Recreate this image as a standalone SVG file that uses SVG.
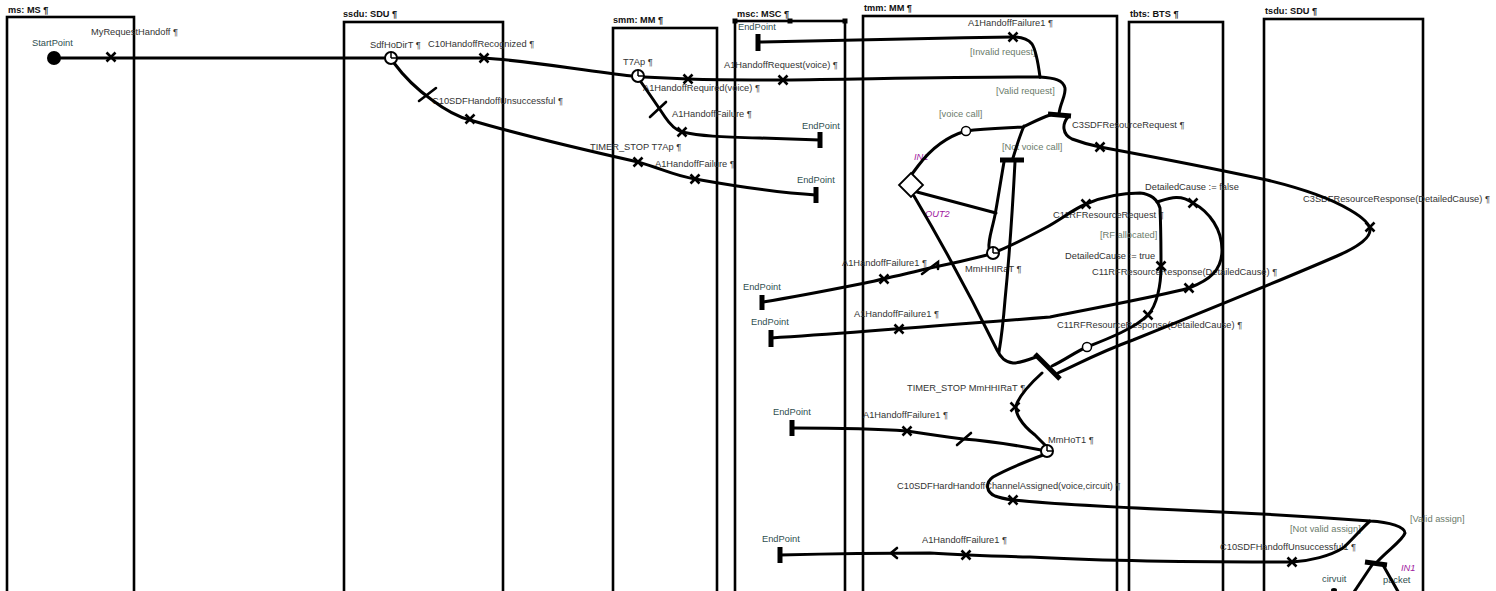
<svg xmlns="http://www.w3.org/2000/svg" xmlns:xlink="http://www.w3.org/1999/xlink" width="1496" height="591" viewBox="0 0 1496 591">
<style>
.box{fill:none;stroke:#000;stroke-width:2.6}
.p{fill:none;stroke:#000;stroke-width:3;stroke-linecap:round;stroke-linejoin:round}
.bar{stroke:#000;stroke-width:5;stroke-linecap:butt}
.tm{fill:none;stroke:#000;stroke-width:2.6;stroke-linecap:round}
text{font-family:"Liberation Sans",Arial,sans-serif;font-size:9.3px;fill:#333}
.comp{font-weight:bold;font-size:9.2px;fill:#111}
.ep{fill:#2f4f4f}
.cond{fill:#6b7b6b}
.stub{fill:#a020a0;font-style:italic}
</style>
<defs>
<g id="x"><path d="M-4.5,-4.5L4.5,4.5M-4.5,4.5L4.5,-4.5" stroke="#000" stroke-width="2.6" fill="none"/></g>
<g id="timer"><circle r="6" fill="#fff" stroke="#000" stroke-width="2"/><path d="M0,0V-5.5M0,0H5.5" stroke="#000" stroke-width="1.5" fill="none"/></g>
<g id="dot"><circle r="4.5" fill="#fff" stroke="#000" stroke-width="1.5"/></g>
</defs>
<rect width="1496" height="591" fill="#fff"/>

<g id="ms"><rect class="box" x="7" y="17" width="127" height="590"/><text class="comp" x="8" y="13">ms: MS ¶</text></g>
<g id="ssdu"><rect class="box" x="344" y="22" width="159" height="590"/><text class="comp" x="343" y="17">ssdu: SDU ¶</text></g>
<g id="smm"><rect class="box" x="613" y="28" width="104" height="590"/><text class="comp" x="613" y="23">smm: MM ¶</text></g>
<g id="msc"><rect class="box" x="735" y="21" width="110" height="590"/><text class="comp" x="737" y="17">msc: MSC ¶</text>
<rect x="732.5" y="18.5" width="5" height="5" fill="#000"/><rect x="787.5" y="18.5" width="5" height="5" fill="#000"/><rect x="842.5" y="18.5" width="5" height="5" fill="#000"/></g>
<g id="tmm"><rect class="box" x="863" y="16" width="254" height="590"/><text class="comp" x="864" y="11">tmm: MM ¶</text></g>
<g id="tbts"><rect class="box" x="1129" y="22" width="94" height="590"/><text class="comp" x="1130" y="17">tbts: BTS ¶</text></g>
<g id="tsdu"><rect class="box" x="1264" y="19" width="159" height="590"/><text class="comp" x="1265" y="14">tsdu: SDU ¶</text></g>

<g id="labels">
<text class="ep" x="32" y="46">StartPoint</text>
<text x="91" y="35">MyRequestHandoff ¶</text>
<text x="370" y="48">SdfHoDirT ¶</text>
<text x="428" y="47">C10HandoffRecognized ¶</text>
<text x="432" y="104">C10SDFHandoffUnsuccessful ¶</text>
<text x="623" y="65">T7Ap ¶</text>
<text x="643" y="91">A1HandoffRequired(voice) ¶</text>
<text x="724" y="68">A1HandoffRequest(voice) ¶</text>
<text x="672" y="117">A1HandoffFailure ¶</text>
<text class="ep" x="802" y="129">EndPoint</text>
<text x="590" y="150">TIMER_STOP T7Ap ¶</text>
<text x="655" y="167">A1HandoffFailure ¶</text>
<text class="ep" x="797" y="183">EndPoint</text>
<text class="ep" x="738" y="30">EndPoint</text>
<text x="968" y="26">A1HandoffFailure1 ¶</text>
<text class="cond" x="970" y="55">[Invalid request]</text>
<text class="cond" x="996" y="94">[Valid request]</text>
<text class="cond" x="939" y="117">[voice call]</text>
<text x="1072" y="128">C3SDFResourceRequest ¶</text>
<text class="cond" x="1002" y="150">[Not voice call]</text>
<text class="stub" x="914" y="160">IN1</text>
<text class="stub" x="925" y="217">OUT2</text>
<text x="1145" y="190">DetailedCause := false</text>
<text x="1303" y="202">C3SDFResourceResponse(DetailedCause) ¶</text>
<text x="1053" y="218">C11RFResourceRequest ¶</text>
<text class="cond" x="1100" y="238">[RF allocated]</text>
<text x="1065" y="259">DetailedCause := true</text>
<text x="1092" y="275">C11RFResourceResponse(DetailedCause) ¶</text>
<text x="965" y="272">MmHHIRaT ¶</text>
<text x="842" y="266">A1HandoffFailure1 ¶</text>
<text class="ep" x="743" y="290">EndPoint</text>
<text x="854" y="317">A1HandoffFailure1 ¶</text>
<text class="ep" x="751" y="325">EndPoint</text>
<text x="1057" y="328">C11RFResourceResponse(DetailedCause) ¶</text>
<text x="907" y="391">TIMER_STOP MmHHIRaT ¶</text>
<text class="ep" x="773" y="415">EndPoint</text>
<text x="863" y="418">A1HandoffFailure1 ¶</text>
<text x="1048" y="443">MmHoT1 ¶</text>
<text x="897" y="489">C10SDFHardHandoffChannelAssigned(voice,circuit) ¶</text>
<text class="cond" x="1410" y="522">[Valid assign]</text>
<text class="cond" x="1290" y="532">[Not valid assign]</text>
<text x="1220" y="550">C10SDFHandoffUnsuccessful1 ¶</text>
<text class="ep" x="762" y="542">EndPoint</text>
<text x="922" y="543">A1HandoffFailure1 ¶</text>
<text class="stub" x="1401" y="571">IN1</text>
<text class="ep" x="1322" y="582">cirvuit</text>
<text class="ep" x="1383" y="583">packet</text>
</g>

<g id="connectors">
<path class="p" d="M54,58 L385,58"/>
<path class="p" d="M397,58 L484,58 C530,61 580,70 632,76"/>
<path class="p" d="M394,63 C405,78 418,90 432,100 C448,112 458,117 470,120 C520,135 585,150 638,162 C660,168 675,176 695,179 C740,187 780,193 816,195"/>
<path class="p" d="M641,82 C648,92 657,105 665,117 C671,126 676,130 682,132 C700,136 720,137 760,138 L820,140"/>
<path class="p" d="M644,77 L688,79 C720,80 750,80 783,80 C870,79 960,77 1040,77"/>
<path class="p" d="M1040,77 C1038,62 1036,50 1032,44 C1027,38 1020,37 1013,37 C930,38 850,40 758,42"/>
<path class="p" d="M1040,77 C1055,78 1063,80 1065,88 C1066,96 1060,103 1059,114"/>
<path class="p" d="M1068,117 C1062,124 1062,134 1072,139 C1080,142 1090,145 1100,147 C1170,160 1230,172 1267,180 C1300,188 1330,198 1350,210 C1362,217 1370,224 1370,230 C1370,238 1360,246 1337,256 C1300,272 1220,305 1133,340 C1100,352 1080,363 1058,373"/>
<path class="p" d="M1050,115 C1038,119 1030,124 1023,127 C1005,128 985,128 966,131 C945,137 930,150 918,166 L912,174"/>
<path class="p" d="M1024,126 C1020,135 1016,148 1013,158"/>
<path class="p" d="M1004,162 C1000,185 997,205 995,215 C992,230 988,240 989,248"/>
<path class="p" d="M1015,162 C1013,200 1009,260 1005,300 C1003,325 1001,340 999,352"/>
<path class="p" d="M917,192 L996,213"/>
<path class="p" d="M914,196 C940,240 975,305 997,350 C1001,358 1005,362 1013,363 C1020,363 1028,360 1036,357"/>
<path class="p" d="M998,251 C1015,244 1030,236 1045,228 C1060,220 1072,210 1086,204 C1100,198 1120,193 1140,193 C1150,194 1157,198 1160,208 C1161,230 1161,250 1161,267 C1161,285 1157,305 1148,315 C1135,328 1110,338 1087,347 C1075,352 1065,360 1052,366"/>
<path class="p" d="M1157,202 C1170,198 1180,194 1193,203 C1210,212 1222,230 1222,250 C1222,270 1210,280 1189,288 C1160,296 1110,305 1050,317 C950,325 850,333 771,338"/>
<path class="p" d="M987,255 C960,262 940,266 930,268 C900,275 880,280 860,284 C830,290 800,296 763,302"/>
<path class="p" d="M1042,373 C1032,382 1022,392 1017,403 C1013,412 1022,425 1035,435 C1040,440 1044,444 1046,446"/>
<path class="p" d="M1041,450 C1020,446 990,441 963,439 C940,436 920,433 907,431 C880,429 840,428 793,428"/>
<path class="p" d="M1043,455 C1030,460 1005,470 993,477 C985,483 986,492 995,496 C1000,498 1006,499 1013,500 C1060,505 1130,508 1200,511 C1270,514 1330,518 1370,521 C1390,522 1405,527 1405,533 C1403,540 1388,550 1377,562"/>
<path class="p" d="M1370,521 C1362,528 1352,540 1343,548 C1330,556 1310,561 1292,562 C1200,562 1100,561 1030,557 C990,556 960,555 930,553 C880,553 820,554 780,555"/>
<path class="p" d="M1372,565 L1352,595"/>
<path class="p" d="M1383,565 L1400,595"/>
</g>

<g id="markers">
<circle id="StartPoint" cx="54" cy="58" r="7" fill="#000"/>
<line class="bar" x1="816" y1="187" x2="816" y2="203"/>
<line class="bar" x1="820" y1="132" x2="820" y2="148"/>
<line class="bar" x1="758" y1="34" x2="758" y2="51"/>
<line class="bar" x1="762" y1="295" x2="762" y2="310"/>
<line class="bar" x1="771" y1="330" x2="771" y2="347"/>
<line class="bar" x1="792" y1="420" x2="792" y2="436"/>
<line class="bar" x1="780" y1="547" x2="780" y2="563"/>
<line class="bar" x1="1048" y1="114" x2="1071" y2="116"/>
<line class="bar" x1="1000" y1="160" x2="1024" y2="160"/>
<line class="bar" x1="1035" y1="354" x2="1060" y2="379"/>
<line class="bar" x1="1365" y1="562" x2="1387" y2="565"/>
<line class="tm" x1="419" y1="101" x2="436" y2="88"/>
<line class="tm" x1="650" y1="117" x2="666" y2="102"/>
<path class="tm" d="M922,274 L938,262 L938,269"/>
<path class="tm" d="M957,445 L971,433"/>
<path class="tm" d="M897,548 L891,553 L897,558"/>
<use xlink:href="#x" x="111" y="57"/>
<use xlink:href="#x" x="484" y="58"/>
<use xlink:href="#x" x="470" y="119"/>
<use xlink:href="#x" x="638" y="162"/>
<use xlink:href="#x" x="695" y="179"/>
<use xlink:href="#x" x="682" y="132"/>
<use xlink:href="#x" x="688" y="79"/>
<use xlink:href="#x" x="783" y="80"/>
<use xlink:href="#x" x="1013" y="37"/>
<use xlink:href="#x" x="1100" y="147"/>
<use xlink:href="#x" x="1370" y="227"/>
<use xlink:href="#x" x="1086" y="204"/>
<use xlink:href="#x" x="1193" y="203"/>
<use xlink:href="#x" x="1161" y="266"/>
<use xlink:href="#x" x="1189" y="288"/>
<use xlink:href="#x" x="1148" y="315"/>
<use xlink:href="#x" x="884" y="279"/>
<use xlink:href="#x" x="899" y="329"/>
<use xlink:href="#x" x="1015" y="407"/>
<use xlink:href="#x" x="907" y="431"/>
<use xlink:href="#x" x="1013" y="500"/>
<use xlink:href="#x" x="966" y="555"/>
<use xlink:href="#x" x="1292" y="562"/>
<use xlink:href="#timer" x="391" y="58"/>
<use xlink:href="#timer" x="638" y="76"/>
<use xlink:href="#timer" x="993" y="253"/>
<use xlink:href="#timer" x="1047" y="451"/>
<use xlink:href="#dot" x="966" y="131"/>
<use xlink:href="#dot" x="1087" y="347"/>
<path d="M911,173 L923,185 L911,197 L899,185 Z" fill="#fff" stroke="#000" stroke-width="1.8"/>
<ellipse cx="1334" cy="590" rx="3" ry="2" fill="#000"/>
</g>
</svg>
